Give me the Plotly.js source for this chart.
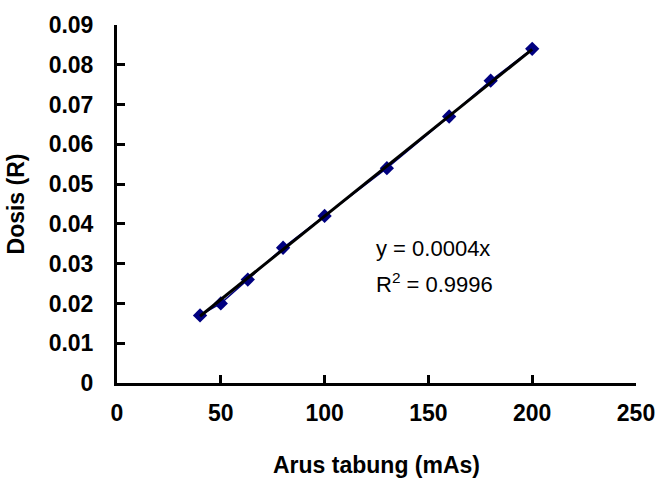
<!DOCTYPE html>
<html>
<head>
<meta charset="utf-8">
<script src="https://cdn.plot.ly/plotly-3.0.1.min.js"></script>
<style>
  html, body { margin: 0; padding: 0; background: #fff; }
  #chart { width: 658px; height: 478px; }
</style>
</head>
<body>
<div id="chart"></div>
<script>
// Tube current (mAs) versus measured dose (R)
const arusTabung = [40, 50, 63, 80, 100, 130, 160, 180, 200];
const dosis = [0.017, 0.020, 0.026, 0.034, 0.042, 0.054, 0.067, 0.076, 0.084];

const xTicks = [0, 50, 100, 150, 200, 250];
const yTicks = [0, 0.01, 0.02, 0.03, 0.04, 0.05, 0.06, 0.07, 0.08, 0.09];
const yTickText = ['0', '0.01', '0.02', '0.03', '0.04', '0.05', '0.06', '0.07', '0.08', '0.09'];

const eqText = 'y = 0.0004x';
const r2Text = 'R<sup>2</sup> = 0.9996';

// Least-squares line through the origin, drawn across the measured range
let sxy = 0, sxx = 0;
for (let i = 0; i < arusTabung.length; i++) {
  sxy += arusTabung[i] * dosis[i];
  sxx += arusTabung[i] * arusTabung[i];
}
const slope = sxy / sxx;
const xMin = Math.min(...arusTabung);
const xMax = Math.max(...arusTabung);
const trendX = [xMin, xMax];
const trendY = trendX.map(v => slope * v);

const FONT = '"Liberation Sans", Arial, sans-serif';
const boldFont = { family: FONT, size: 23, color: '#000', weight: 'bold' };

const data = [
  {
    x: arusTabung,
    y: dosis,
    type: 'scatter',
    mode: 'lines+markers',
    line: { color: '#000080', width: 1.5 },
    marker: { symbol: 'diamond', size: 11, color: '#000080' },
    hoverinfo: 'x+y'
  },
  {
    x: trendX,
    y: trendY,
    type: 'scatter',
    mode: 'lines',
    line: { color: '#000000', width: 3 },
    hoverinfo: 'skip'
  }
];

const axisCommon = {
  showline: true,
  linecolor: '#000',
  linewidth: 3,
  ticks: 'inside',
  ticklen: 8,
  tickwidth: 3,
  tickcolor: '#000',
  showgrid: false,
  zeroline: false,
  tickfont: boldFont
};

const layout = {
  width: 658,
  height: 478,
  margin: { l: 117, r: 22, t: 25, b: 95 },
  paper_bgcolor: '#fff',
  plot_bgcolor: '#fff',
  showlegend: false,
  font: { family: FONT, color: '#000' },
  xaxis: Object.assign({}, axisCommon, {
    range: [0, 250],
    tickvals: xTicks,
    ticktext: xTicks.map(String),
    ticklabelstandoff: 7,
    title: { text: 'Arus tabung (mAs)', font: boldFont, standoff: 34 }
  }),
  yaxis: Object.assign({}, axisCommon, {
    range: [0, 0.09],
    tickvals: yTicks,
    ticktext: yTickText,
    ticklabelstandoff: 16,
    title: { text: 'Dosis (R)', font: boldFont, standoff: 18 }
  }),
  annotations: [
    {
      x: 124, y: 0.0339, xref: 'x', yref: 'y',
      text: eqText, showarrow: false, xanchor: 'left', yanchor: 'middle',
      font: { family: FONT, size: 22, color: '#000' }
    },
    {
      x: 124, y: 0.0251, xref: 'x', yref: 'y',
      text: r2Text, showarrow: false, xanchor: 'left', yanchor: 'middle',
      font: { family: FONT, size: 22, color: '#000' }
    }
  ]
};

Plotly.newPlot('chart', data, layout, { displayModeBar: false, staticPlot: true });
</script>
</body>
</html>
